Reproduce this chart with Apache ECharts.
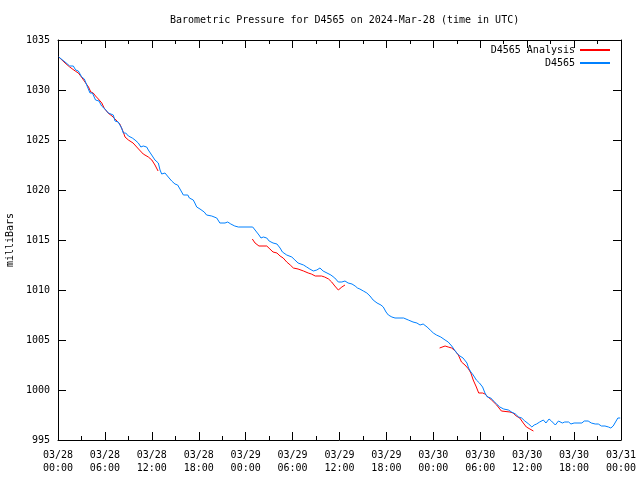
<!DOCTYPE html>
<html>
<head>
<meta charset="utf-8">
<script src="https://cdn.jsdelivr.net/npm/echarts@6/dist/echarts.min.js"></script>
<style>html,body{margin:0;padding:0;background:#fff}#c{width:640px;height:480px}</style>
</head>
<body>
<div id="c"></div>
<script>
// hours since 2024-03-28 00:00 UTC
const obsHours = [0.1,0.9,1.5,1.96,2.26,2.6,3.03,3.37,3.67,3.9,4.09,4.4,4.65,4.8,5.24,5.58,6.0,6.44,6.65,7.07,7.29,7.7,7.93,8.14,8.35,8.66,9.0,9.5,9.85,10.27,10.6,10.9,11.34,11.55,11.98,12.4,12.83,13.05,13.26,13.68,14.1,14.54,14.96,15.3,15.6,16.03,16.6,16.8,17.0,17.3,17.5,17.74,18.16,18.7,19.0,19.66,20.3,20.7,21.36,21.7,22.1,22.6,23.06,24.9,25.2,25.4,25.7,25.96,26.26,26.7,27.0,27.5,28.0,28.4,28.7,29.25,29.9,30.3,30.7,31.4,31.8,32.2,32.65,33.1,33.5,33.9,34.4,34.9,35.4,35.85,36.3,36.7,37.1,37.6,38.0,38.3,38.6,39.05,39.5,39.9,40.3,40.8,41.3,41.6,41.95,42.25,42.7,43.1,44.2,44.8,45.4,45.9,46.3,46.7,47.2,47.6,48.0,48.4,48.95,49.5,49.9,50.35,50.8,51.1,51.4,51.8,52.3,52.5,52.8,53.1,53.5,53.9,54.3,54.6,54.9,55.35,55.7,56.1,56.5,57.0,57.6,58.0,58.5,58.9,59.3,59.7,60.2,60.6,60.9,61.2,61.6,62.07,62.4,62.8,63.1,63.6,64.0,64.5,64.8,65.3,65.6,66.0,66.5,67.0,67.3,67.8,68.2,68.7,69.1,69.5,69.95,70.4,70.7,71.0,71.3,71.6,71.9];
const obsValues = [1033.3,1032.8,1032.4,1032.4,1032.0,1031.9,1031.3,1031.1,1030.5,1030.3,1029.7,1029.7,1029.5,1029.0,1028.9,1028.4,1028.1,1027.7,1027.5,1027.5,1026.9,1026.8,1026.6,1026.2,1025.7,1025.7,1025.4,1025.2,1025.0,1024.7,1024.3,1024.4,1024.3,1024.0,1023.5,1023.0,1022.7,1022.0,1021.6,1021.7,1021.3,1020.9,1020.6,1020.5,1020.1,1019.5,1019.5,1019.2,1019.3,1019.0,1018.7,1018.3,1018.1,1017.8,1017.5,1017.4,1017.2,1016.7,1016.7,1016.8,1016.6,1016.4,1016.3,1016.3,1016.0,1015.8,1015.5,1015.2,1015.3,1015.2,1014.9,1014.7,1014.6,1014.2,1013.8,1013.5,1013.3,1013.0,1012.7,1012.5,1012.3,1012.1,1011.9,1012.0,1012.2,1011.9,1011.7,1011.5,1011.2,1010.8,1010.8,1010.9,1010.7,1010.6,1010.4,1010.2,1010.1,1009.9,1009.7,1009.4,1009.0,1008.7,1008.5,1008.3,1007.8,1007.5,1007.3,1007.2,1007.2,1007.0,1006.8,1006.7,1006.5,1006.6,1006.3,1006.0,1005.7,1005.5,1005.3,1005.0,1004.8,1004.4,1003.9,1003.6,1003.4,1003.2,1002.7,1002.2,1001.8,1001.5,1001.0,1000.7,1000.3,999.7,999.3,999.2,998.9,998.6,998.3,998.1,998.0,997.8,997.6,997.3,997.2,996.9,996.6,996.3,996.5,996.6,996.8,997.0,996.7,997.1,996.9,996.5,996.9,996.7,996.8,996.8,996.6,996.7,996.7,996.7,996.9,996.9,996.7,996.6,996.6,996.4,996.4,996.3,996.2,996.4,996.8,997.2,997.2];
// null marks a gap between analysis runs
const anaHours = [0.1,0.9,1.5,2.2,2.6,3.0,3.45,3.9,4.2,4.5,4.8,5.16,5.6,5.9,6.4,6.9,7.3,7.9,8.35,8.57,9.0,9.6,10.3,10.9,11.55,12.0,12.4,12.8,18,24.85,25.2,25.7,26.7,27.1,27.5,28.0,28.4,28.8,29.25,29.7,30.1,30.7,31.4,32.0,32.4,32.9,33.7,34.1,34.6,35.0,35.4,35.85,36.3,36.7,42,48.8,49.5,49.9,50.35,50.8,51.2,51.6,52.05,52.5,52.8,53.1,53.5,53.8,54.3,54.6,55.0,55.45,56.1,56.7,57.8,58.2,58.6,59.05,59.5,59.9,60.35,60.8];
const anaValues = [1033.3,1032.7,1032.3,1031.9,1031.7,1031.3,1030.8,1030.3,1029.8,1029.7,1029.4,1029.1,1028.7,1028.2,1027.7,1027.4,1027.1,1026.6,1025.8,1025.3,1025.0,1024.7,1024.1,1023.6,1023.3,1023.0,1022.5,1021.9,null,1015.1,1014.7,1014.4,1014.4,1014.1,1013.8,1013.7,1013.4,1013.2,1012.8,1012.5,1012.2,1012.1,1011.9,1011.7,1011.6,1011.4,1011.4,1011.3,1011.1,1010.8,1010.4,1010.0,1010.3,1010.5,null,1004.2,1004.4,1004.3,1004.2,1003.9,1003.5,1002.8,1002.5,1002.1,1001.7,1001.0,1000.3,999.7,999.7,999.6,999.3,999.0,998.5,997.9,997.8,997.7,997.4,997.2,996.7,996.3,996.1,995.9];
const xDays = ['03/28','03/28','03/28','03/28','03/29','03/29','03/29','03/29','03/30','03/30','03/30','03/30','03/31'];
const xTimes = ['00:00','06:00','12:00','18:00','00:00','06:00','12:00','18:00','00:00','06:00','12:00','18:00','00:00'];

const FONT = 'DejaVu Sans Mono';
const chart = echarts.init(document.getElementById('c'), null, {renderer: 'canvas'});
const obs = obsHours.map((h, i) => [h, obsValues[i]]);
const ana = anaHours.map((h, i) => [h, anaValues[i] === null ? '-' : anaValues[i]]);
const tick = {show: true, inside: true, length: 8, lineStyle: {color: '#000', width: 1}};
const minor = {show: true, splitNumber: 2, length: 4, lineStyle: {color: '#000', width: 1}};
const line = {show: true, onZero: false, lineStyle: {color: '#000', width: 1}};
chart.setOption({
  animation: false,
  backgroundColor: '#fff',
  title: {
    text: 'Barometric Pressure for D4565 on 2024-Mar-28 (time in UTC)',
    left: 165, top: 10,
    textStyle: {fontFamily: FONT, fontSize: 10, fontWeight: 'normal', color: '#000'}
  },
  legend: [
    {data: ['D4565 Analysis'], right: 25, top: 40, align: 'right', itemWidth: 30, itemHeight: 2, itemGap: 6,
     icon: 'rect', textStyle: {fontFamily: FONT, fontSize: 10, color: '#000'}},
    {data: ['D4565'], right: 25, top: 53, align: 'right', itemWidth: 30, itemHeight: 2, itemGap: 6,
     icon: 'rect', textStyle: {fontFamily: FONT, fontSize: 10, color: '#000'}}
  ],
  grid: {left: 58, right: 19, top: 40, bottom: 40, containLabel: false, outerBoundsMode: 'none'},
  xAxis: [
    {type: 'value', min: 0, max: 72, interval: 6, position: 'bottom',
     axisLine: line, axisTick: tick, minorTick: minor, splitLine: {show: false},
     axisLabel: {fontFamily: FONT, fontSize: 10, color: '#000', margin: 9, lineHeight: 13,
       formatter: v => { const i = Math.round(v / 6); return xDays[i] + '\n' + xTimes[i]; }}},
    {type: 'value', min: 0, max: 72, interval: 6, position: 'top',
     axisLine: line, axisTick: tick, minorTick: minor, splitLine: {show: false},
     axisLabel: {show: false}}
  ],
  yAxis: [
    {type: 'value', min: 995, max: 1035, interval: 5, position: 'left',
     name: 'milliBars', nameLocation: 'middle', nameGap: 42, nameRotate: 90,
     nameTextStyle: {fontFamily: FONT, fontSize: 10, color: '#000'},
     axisLine: line, axisTick: tick, splitLine: {show: false},
     axisLabel: {fontFamily: FONT, fontSize: 10, color: '#000', margin: 8, formatter: v => String(v)}},
    {type: 'value', min: 995, max: 1035, interval: 5, position: 'right',
     axisLine: line, axisTick: tick, splitLine: {show: false}, axisLabel: {show: false}}
  ],
  series: [
    {name: 'D4565 Analysis', type: 'line', data: ana, showSymbol: false, symbol: 'none',
     connectNulls: false, color: '#ff0000', lineStyle: {width: 1, color: '#ff0000'}},
    {name: 'D4565', type: 'line', data: obs, showSymbol: false, symbol: 'none',
     color: '#0080ff', lineStyle: {width: 1, color: '#0080ff'}}
  ]
});
</script>
</body>
</html>
